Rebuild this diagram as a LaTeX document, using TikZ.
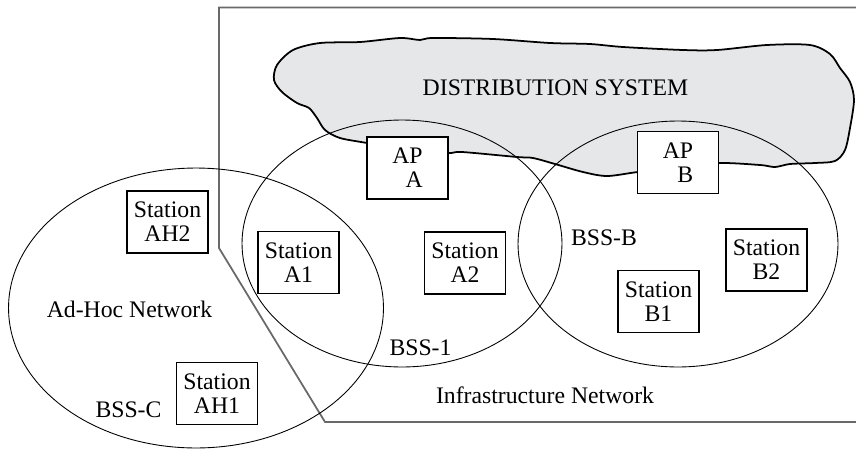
\documentclass[tikz,border=0pt]{standalone}
\usepackage{fontspec}
\setmainfont{Liberation Serif}
\usetikzlibrary{shapes.geometric}
\definecolor{DSGray}{RGB}{230,231,233}
\definecolor{FrameGray}{RGB}{105,105,105}
\tikzset{
  station/.style={draw, line width=1.1pt, fill=white, minimum width=1.62cm, minimum height=1.24cm,
    inner sep=1pt, align=center, font=\fontsize{13.5}{13.5}\selectfont},
  apbox/.style={station, align=right},
  bss/.style={draw, ellipse, line width=0.5pt, inner sep=0pt},
  lbl/.style={anchor=base, inner sep=0pt, font=\fontsize{13.5}{13.5}\selectfont},
  dscloud/.style={draw, line width=1pt, fill=DSGray},
  infraframe/.style={draw=FrameGray, line width=1pt},
}

\begin{document}
\begin{tikzpicture}[x=0.02cm, y=-0.02cm]
  \useasboundingbox (0,0) rectangle (856,450);
  % infrastructure network frame
  \draw[infraframe] (856,7.5) -- (219,7.5) -- (219,248) -- (325,422) -- (856,422);
  % distribution system
  \draw[dscloud] plot[smooth cycle, tension=0.5] coordinates {
    (448,153) (462,152) (517,157) (533,158) (555,164) (583,172) (607,176) (638,172)
    (680,168) (718,163) (760,165) (775,167) (790,164) (815,163) (835,161) (845,150)
    (850,128) (854,100) (850,82) (840,68) (830,54) (810,45) (767,45) (717,50)
    (683,50) (623,47) (590,44) (550,43) (493,39) (433,38) (420,40) (400,38)
    (360,42) (320,43) (293,50) (277,65) (274,80) (282,92) (297,103) (309,108)
    (317,118) (325,130) (340,138) (367,143) (407,150)};
  \node[lbl] (ds) at (555.5,95) {DISTRIBUTION SYSTEM};
  % basic service sets
  \node[bss, minimum width=7.5cm, minimum height=5.6cm] (bssC) at (196,308) {};
  \node[bss, minimum width=6.4cm, minimum height=4.94cm] (bss1) at (402,243.5) {};
  \node[bss, minimum width=6.4cm, minimum height=4.92cm] (bssB) at (678,244) {};
  % access points and stations
  \node[apbox] (apA) at (407.5,168) {AP\\A};
  \node[apbox] (apB) at (678,162.5) {AP\\B};
  \foreach \n/\x/\y in {AH2/167.5/222, AH1/217/393.5, A1/298.5/262.5, A2/465/263,
      B1/658.5/301.5, B2/766.5/260} {
    \node[station] (st\n) at (\x,\y) {Station\\\n};
  }
  % labels
  \node[lbl] (adhoc) at (129.5,317) {Ad-Hoc Network};
  \node[lbl] (lblC) at (128.5,417) {BSS-C};
  \node[lbl] (lbl1) at (420.5,355) {BSS-1};
  \node[lbl] (lblB) at (604,245) {BSS-B};
  \node[lbl] (infra) at (545,403) {Infrastructure Network};
\end{tikzpicture}
\end{document}
